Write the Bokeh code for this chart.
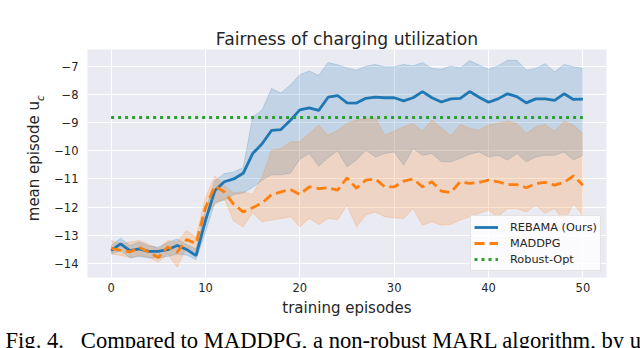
from bokeh.plotting import figure
from bokeh.models import Range1d, FixedTicker, Legend, LegendItem, Title
from bokeh.embed import file_html
from bokeh.resources import INLINE

episodes = list(range(51))

rebama_mean = [-13.54, -13.30, -13.54, -13.48, -13.57, -13.57, -13.51, -13.36, -13.50, -13.72,
               -12.48, -11.41, -11.10, -11.00, -10.80, -10.10, -9.75, -9.28, -9.25, -8.92,
               -8.55, -8.48, -8.57, -8.10, -8.04, -8.30, -8.31, -8.14, -8.10, -8.12,
               -8.12, -8.23, -8.12, -7.90, -8.12, -8.27, -8.16, -8.14, -7.90, -8.10,
               -8.28, -8.16, -7.98, -8.08, -8.30, -8.16, -8.16, -8.21, -7.98, -8.18, -8.17]
rebama_upper = [-13.36, -13.10, -13.36, -13.24, -13.38, -13.42, -13.26, -13.13, -13.33, -13.48,
                -12.12, -11.06, -10.81, -10.75, -10.60, -8.80, -8.56, -7.79, -7.95, -7.67,
                -7.30, -7.17, -7.32, -6.87, -6.95, -7.06, -7.14, -7.00, -6.94, -7.02,
                -7.02, -6.94, -6.99, -6.87, -7.08, -7.11, -6.99, -7.06, -6.80, -6.96,
                -7.11, -6.99, -6.79, -6.79, -7.14, -7.08, -6.91, -7.20, -6.94, -7.02, -7.08]
rebama_lower = [-13.66, -13.54, -13.80, -13.75, -13.80, -13.80, -13.75, -13.66, -13.70, -13.87,
                -12.89, -11.83, -11.75, -11.55, -11.50, -11.30, -11.05, -10.85, -10.85, -10.80,
                -10.30, -10.10, -10.55, -10.25, -10.00, -10.57, -10.33, -9.98, -10.22, -10.10,
                -10.04, -10.51, -9.92, -10.16, -10.10, -10.39, -10.39, -10.27, -10.12, -10.04,
                -10.22, -10.16, -10.33, -10.10, -10.39, -10.22, -10.16, -10.16, -10.04, -10.33, -10.16]

maddpg_mean = [-13.46, -13.53, -13.59, -13.43, -13.59, -13.79, -13.41, -13.60, -13.15, -13.29,
               -12.02, -11.25, -11.46, -11.90, -12.17, -12.02, -11.85, -11.56, -11.46, -11.37,
               -11.55, -11.28, -11.34, -11.31, -11.40, -10.96, -11.33, -11.04, -11.00, -11.28,
               -11.28, -11.08, -11.00, -11.28, -11.10, -11.43, -11.48, -11.10, -11.16, -11.12,
               -11.04, -11.10, -11.20, -11.20, -11.31, -11.16, -11.12, -11.22, -11.12, -10.89, -11.22]
maddpg_upper = [-13.18, -13.30, -13.24, -13.18, -13.32, -13.48, -13.18, -13.24, -12.83, -13.07,
                -11.65, -10.90, -11.22, -11.50, -11.45, -11.55, -10.92, -9.98, -9.92, -9.68,
                -9.68, -9.39, -9.09, -9.45, -9.27, -9.03, -8.91, -8.86, -8.83, -9.45,
                -9.30, -9.15, -9.03, -9.30, -8.91, -9.19, -9.47, -9.07, -9.20, -9.27,
                -9.09, -9.03, -8.95, -9.03, -9.39, -9.15, -9.07, -9.30, -8.95, -9.09, -9.39]
maddpg_lower = [-13.66, -13.72, -13.78, -13.72, -13.78, -13.95, -13.66, -14.13, -13.42, -13.60,
                -12.36, -11.90, -11.70, -12.50, -12.70, -12.20, -12.52, -12.46, -12.40, -12.34,
                -12.70, -12.40, -12.62, -12.40, -12.45, -11.93, -12.70, -12.28, -12.17, -12.34,
                -12.38, -12.40, -12.05, -12.64, -12.52, -12.64, -12.61, -12.46, -12.34, -12.22,
                -12.11, -12.34, -12.05, -12.05, -12.17, -11.93, -12.22, -12.05, -12.52, -11.88, -12.30]

robust_opt_value = -8.82
robust_opt = [robust_opt_value] * len(episodes)

x_ticks = [0, 10, 20, 30, 40, 50]
y_ticks = [-14, -13, -12, -11, -10, -9, -8, -7]
y_tick_labels = ["\u221214", "\u221213", "\u221212", "\u221211", "\u221210", "\u22129", "\u22128", "\u22127"]

title_text = "Fairness of charging utilization"
x_label = "training episodes"
y_label_main = "\u00a0mean episode u"
y_label_sub = "c"
caption_text = "Fig. 4.\u00a0\u00a0\u00a0Compared to MADDPG, a non-robust MARL algorithm, by u"
series_names = ["REBAMA (Ours)", "MADDPG", "Robust-Opt"]

BLUE = "#1f77b4"
ORANGE = "#ff7f0e"
GREEN = "#2ca02c"
TXT = "#262626"
FONT = "DejaVu Sans"
SERIF = "Liberation Serif"

p = figure(width=640, height=348, output_backend="svg", toolbar_location=None,
           x_range=Range1d(-2.5, 52.5), y_range=Range1d(-14.496, -6.408),
           min_border_left=87, min_border_right=34, min_border_top=49, min_border_bottom=71,
           background_fill_color="#eaeaf2", border_fill_color="white")
p.outline_line_color = None

p.title.text = title_text
p.title.align = "center"
p.title.vertical_align = "bottom"
p.title.text_font = FONT
p.title.text_font_size = "17.2px"
p.title.text_font_style = "normal"
p.title.text_color = TXT
p.title.standoff = 2

for ax in (p.xaxis[0], p.yaxis[0]):
    ax.axis_line_color = None
    ax.major_tick_line_color = None
    ax.minor_tick_line_color = None
    ax.major_tick_out = 0
    ax.major_tick_in = 0
    ax.minor_tick_out = 0
    ax.major_label_text_font = FONT
    ax.major_label_text_font_size = "11.5px"
    ax.major_label_text_color = TXT
    ax.axis_label_text_font = FONT
    ax.axis_label_text_font_size = "15px"
    ax.axis_label_text_font_style = "normal"
    ax.axis_label_text_color = TXT

p.xaxis.ticker = FixedTicker(ticks=x_ticks)
p.yaxis.ticker = FixedTicker(ticks=y_ticks)
p.yaxis.major_label_overrides = {t: l for t, l in zip(y_ticks, y_tick_labels)}
p.xaxis.major_label_standoff = 5
p.yaxis.major_label_standoff = 9
p.xaxis.axis_label = x_label
p.xaxis.axis_label_standoff = 4
p.yaxis.axis_label = y_label_main
p.yaxis.axis_label_standoff = 8

p.xgrid.grid_line_color = "white"
p.ygrid.grid_line_color = "white"
p.xgrid.grid_line_width = 1.1
p.ygrid.grid_line_width = 1.1
p.xgrid.ticker = FixedTicker(ticks=x_ticks)
p.ygrid.ticker = FixedTicker(ticks=y_ticks)

# subscript "c" of the y label, as an outer left title pulled back next to the "u"
p.add_layout(Title(text=y_label_sub, align="left", vertical_align="bottom", offset=176.5,
                   standoff=-46, text_font=FONT, text_font_size="10.5px",
                   text_font_style="italic", text_color=TXT), "left")

# caption of the source figure (cropped in the reference)
p.add_layout(Title(text=caption_text, align="left", vertical_align="bottom", offset=-82,
                   standoff=-66, text_font=SERIF, text_font_size="22.6px",
                   text_font_style="normal", text_color="black"), "below")

# bands
p.varea(x=episodes, y1=rebama_lower, y2=rebama_upper, fill_color=BLUE, fill_alpha=0.2)
p.line(episodes, rebama_upper, line_color=BLUE, line_alpha=0.2, line_width=1)
p.line(episodes, rebama_lower, line_color=BLUE, line_alpha=0.2, line_width=1)
p.varea(x=episodes, y1=maddpg_lower, y2=maddpg_upper, fill_color=ORANGE, fill_alpha=0.2)
p.line(episodes, maddpg_upper, line_color=ORANGE, line_alpha=0.2, line_width=1)
p.line(episodes, maddpg_lower, line_color=ORANGE, line_alpha=0.2, line_width=1)

# lines
r1 = p.line(episodes, rebama_mean, line_color=BLUE, line_width=2.8)
r2 = p.line(episodes, maddpg_mean, line_color=ORANGE, line_width=2.8, line_dash="10 5")
r3 = p.line(episodes, robust_opt, line_color=GREEN, line_width=2.8, line_dash="3 4")

legend = Legend(items=[LegendItem(label=series_names[0], renderers=[r1]),
                       LegendItem(label=series_names[1], renderers=[r2]),
                       LegendItem(label=series_names[2], renderers=[r3])],
                location=(383, 6), margin=0, padding=3, spacing=0,
                glyph_width=24, glyph_height=16, label_height=16, label_standoff=12,
                label_text_font=FONT, label_text_font_size="11.3px", label_text_color=TXT,
                background_fill_color="white", background_fill_alpha=0.8,
                border_line_color="#cccccc", border_line_width=1)
p.add_layout(legend, "center")

open("out.html", "w").write(file_html(p, INLINE))
